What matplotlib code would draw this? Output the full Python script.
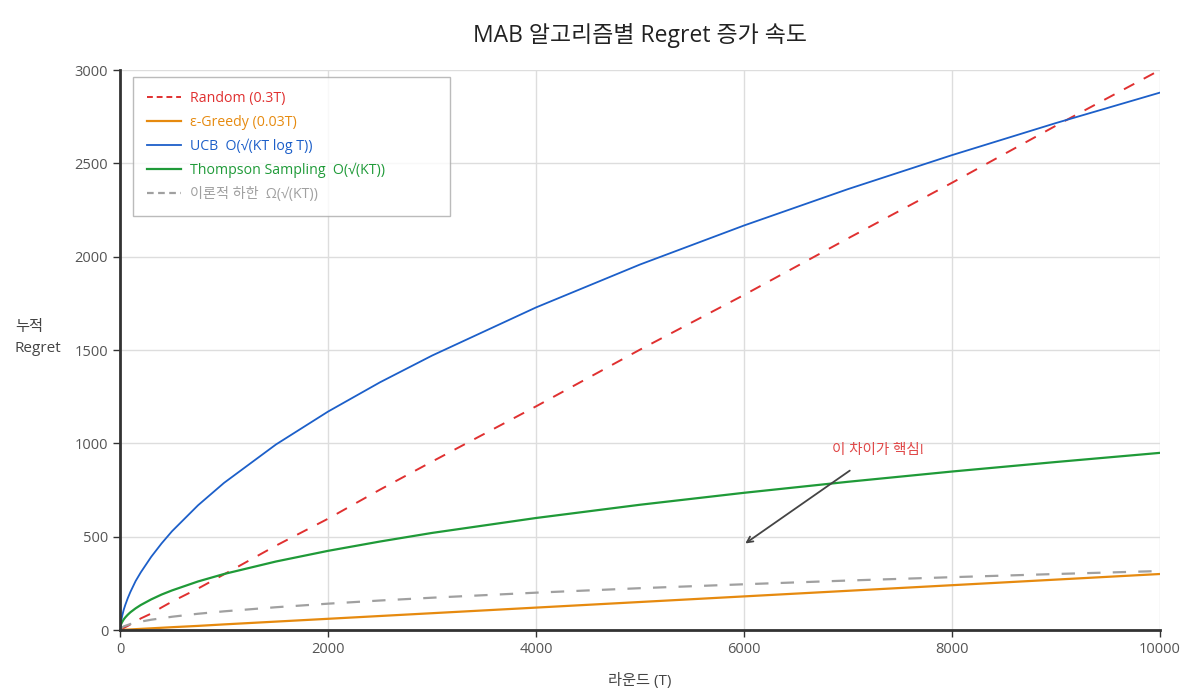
import matplotlib.pyplot as plt

plt.rcParams['font.family'] = ['Open Sans', 'DejaVu Sans', 'Noto Sans CJK KR']

# 라운드 샘플 지점 (T)
rounds = [0, 5, 10, 20, 35, 50, 75, 100, 150, 200, 300, 400, 500, 750, 1000,
          1500, 2000, 2500, 3000, 4000, 5000, 6000, 7000, 8000, 9000, 10000]

# 그림에서 읽은 누적 regret 값
random_regret = [0, 1.5, 3, 6, 10, 15, 22, 30, 45, 62, 88, 121, 152, 222, 298,
                 452, 596, 752, 902, 1198, 1502, 1795, 2098, 2396, 2702, 3000]
greedy_regret = [0, 0.15, 0.3, 0.6, 1, 1.5, 2.2, 3, 4.5, 6, 9, 12, 15, 22, 30,
                 45, 60, 75, 90, 120, 150, 180, 210, 240, 270, 300]
ucb_regret = [0, 27, 45, 73, 107, 133, 171, 204, 262, 309, 392, 464, 529, 668, 788,
              994, 1170, 1327, 1470, 1728, 1958, 2167, 2362, 2544, 2716, 2879]
ts_regret = [0, 21, 30, 42, 56, 67, 82, 95, 116, 134, 164, 190, 212, 260, 300,
             367, 424, 474, 520, 600, 671, 735, 794, 849, 900, 949]
lower_bound = [0, 7, 10, 14, 19, 22, 27, 32, 39, 45, 55, 63, 71, 87, 100,
               122, 141, 158, 173, 200, 224, 245, 265, 283, 300, 316]

labels = ['Random (0.3T)', 'ε-Greedy (0.03T)', 'UCB  O(√(KT log T))',
          'Thompson Sampling  O(√(KT))', '이론적 하한  Ω(√(KT))']
colors = ['#e03030', '#e68a0f', '#1c5fc9', '#1f9a38', '#a0a0a0']

fig = plt.figure(figsize=(12, 7), dpi=100)
ax = fig.add_axes([0.1, 0.1, 0.8667, 0.8])

ax.plot(rounds, random_regret, color=colors[0], lw=1.4, dashes=(6, 5.5), label=labels[0])
ax.plot(rounds, greedy_regret, color=colors[1], lw=1.6, label=labels[1])
ax.plot(rounds, ucb_regret, color=colors[2], lw=1.3, label=labels[2])
ax.plot(rounds, ts_regret, color=colors[3], lw=1.6, label=labels[3])
ax.plot(rounds, lower_bound, color=colors[4], lw=1.6, dashes=(6, 5.5), label=labels[4])

ax.set_xlim(0, 10000)
ax.set_ylim(0, 3000)
ax.set_xticks(range(0, 10001, 2000))
ax.set_yticks(range(0, 3001, 500))
ax.grid(True, color='#dddddd', lw=1)
ax.set_axisbelow(True)

for s in ['top', 'right']:
    ax.spines[s].set_visible(False)
for s in ['left', 'bottom']:
    ax.spines[s].set_color('#333333')
    ax.spines[s].set_linewidth(2)
ax.tick_params(colors='#333333', labelcolor='#555555', labelsize=10.5, length=5, width=1)

ax.set_title('MAB 알고리즘별 Regret 증가 속도', fontsize=16.5, color='#222222', pad=20)
ax.set_xlabel('라운드 (T)', fontsize=11, color='#444444', labelpad=12)
fig.text(0.0125, 0.517, '누적\nRegret', fontsize=11, color='#444444', ha='left', va='center',
         linespacing=1.5)

leg = ax.legend(loc='upper left', bbox_to_anchor=(0.0125, 0.9875, 0.305, 0.0), mode='expand',
                fontsize=10.2, frameon=True, fancybox=False, edgecolor='#aaaaaa',
                handlelength=2.4, handletextpad=0.6, labelspacing=0.62,
                borderpad=1.0, borderaxespad=0.0)
leg.get_frame().set_linewidth(1)
for text, c in zip(leg.get_texts(), colors):
    text.set_color(c)
for i in (0, 4):
    leg.get_lines()[i].set_dashes((3, 2))

ax.annotate('이 차이가 핵심!', xy=(5990, 455), xytext=(7290, 960), fontsize=10.5,
            color='#e04848', ha='center', va='center',
            arrowprops=dict(arrowstyle='->', color='#444444', lw=1.3, shrinkA=12))

fig.savefig('out.png', dpi=100)
